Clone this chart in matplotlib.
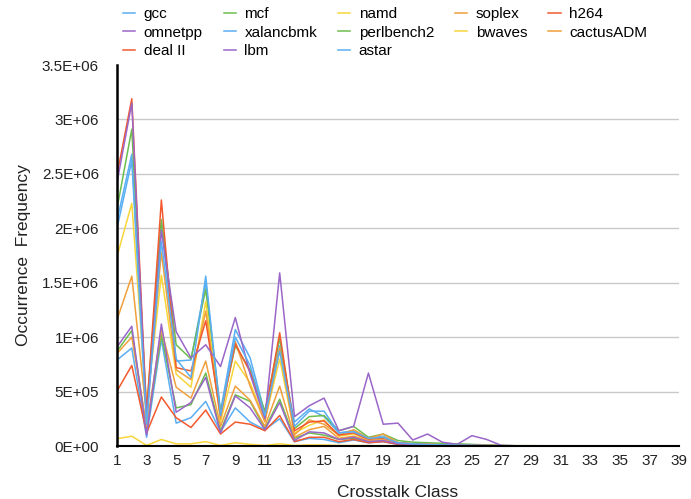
import matplotlib
matplotlib.use("Agg")
import matplotlib.pyplot as plt

plt.rcParams['font.family'] = ['Liberation Sans', 'DejaVu Sans']

classes = list(range(1, 40))
x_ticks = list(range(1, 40, 2))
y_ticks = [0, 0.5, 1.0, 1.5, 2.0, 2.5, 3.0, 3.5]
y_tick_labels = ["0E+00", "5E+05", "1E+06", "1.5E+06", "2E+06", "2.5E+06", "3E+06", "3.5E+06"]

# values in millions
gcc = [2.07, 2.68, 0.25, 2.05, 0.78, 0.79, 1.50, 0.32, 1.07, 0.81, 0.30, 0.92, 0.22, 0.34, 0.27, 0.12, 0.14, 0.07, 0.09, 0.03,
       0.02, 0.015, 0.01, 0.008, 0.006, 0.005, 0.003, 0.002, 0.002, 0.001, 0.001, 0.001, 0.001, 0.001, 0.001, 0.0005, 0.0005, 0.0005, 0.0005]
mcf = [2.18, 2.91, 0.32, 2.08, 0.93, 0.80, 1.44, 0.30, 0.92, 0.70, 0.32, 0.99, 0.16, 0.27, 0.28, 0.14, 0.18, 0.08, 0.11, 0.05,
       0.035, 0.03, 0.025, 0.02, 0.015, 0.01, 0.005, 0.003, 0.003, 0.002, 0.002, 0.002, 0.001, 0.001, 0.001, 0.001, 0.001, 0.001, 0.001]
namd = [1.74, 2.23, 0.35, 1.57, 0.66, 0.54, 1.33, 0.22, 0.78, 0.58, 0.24, 0.80, 0.12, 0.19, 0.24, 0.09, 0.11, 0.06, 0.08, 0.03,
        0.02, 0.015, 0.01, 0.008, 0.006, 0.004, 0.003, 0.002, 0.002, 0.001, 0.001, 0.001, 0.001, 0.001, 0.0005, 0.0005, 0.0005, 0.0005, 0.0005]
soplex = [1.16, 1.56, 0.28, 1.78, 0.70, 0.61, 1.24, 0.25, 0.96, 0.55, 0.22, 0.90, 0.10, 0.24, 0.20, 0.10, 0.15, 0.07, 0.11, 0.03,
          0.02, 0.015, 0.01, 0.008, 0.006, 0.004, 0.003, 0.002, 0.002, 0.001, 0.001, 0.001, 0.001, 0.001, 0.0005, 0.0005, 0.0005, 0.0005, 0.0005]
h264 = [2.49, 3.19, 0.30, 2.26, 0.72, 0.69, 1.15, 0.28, 0.94, 0.68, 0.28, 1.04, 0.14, 0.22, 0.23, 0.10, 0.12, 0.06, 0.07, 0.03,
        0.02, 0.015, 0.01, 0.008, 0.006, 0.004, 0.003, 0.002, 0.002, 0.001, 0.001, 0.001, 0.001, 0.001, 0.0005, 0.0005, 0.0005, 0.0005, 0.0005]
omnetpp = [2.42, 3.15, 0.22, 1.98, 1.05, 0.81, 0.93, 0.73, 1.18, 0.66, 0.25, 1.59, 0.27, 0.37, 0.44, 0.14, 0.18, 0.67, 0.20, 0.21,
           0.055, 0.11, 0.035, 0.015, 0.095, 0.06, 0.005, 0.002, 0.002, 0.001, 0.001, 0.001, 0.001, 0.001, 0.0005, 0.0005, 0.0005, 0.0005, 0.0005]
xalancbmk = [0.79, 0.90, 0.08, 0.98, 0.21, 0.26, 0.41, 0.13, 0.35, 0.22, 0.15, 0.25, 0.04, 0.07, 0.06, 0.03, 0.055, 0.03, 0.04, 0.015,
             0.01, 0.008, 0.006, 0.005, 0.004, 0.003, 0.002, 0.001, 0.001, 0.001, 0.001, 0.0005, 0.0005, 0.0005, 0.0005, 0.0005, 0.0005, 0.0005, 0.0005]
perlbench2 = [0.87, 1.06, 0.15, 1.02, 0.35, 0.38, 0.67, 0.14, 0.47, 0.41, 0.16, 0.43, 0.07, 0.12, 0.10, 0.06, 0.07, 0.04, 0.05, 0.02,
              0.015, 0.01, 0.008, 0.006, 0.005, 0.003, 0.002, 0.001, 0.001, 0.001, 0.001, 0.0005, 0.0005, 0.0005, 0.0005, 0.0005, 0.0005, 0.0005, 0.0005]
bwaves = [0.067, 0.09, 0.005, 0.06, 0.02, 0.02, 0.04, 0.005, 0.03, 0.015, 0.005, 0.02, 0.005, 0.01, 0.01, 0.005, 0.005, 0.003, 0.003, 0.002,
          0.001, 0.001, 0.001, 0.001, 0.001, 0.001, 0.001, 0.0005, 0.0005, 0.0005, 0.0005, 0.0005, 0.0005, 0.0005, 0.0005, 0.0005, 0.0005, 0.0005, 0.0005]
cactusADM = [0.85, 1.00, 0.18, 1.07, 0.54, 0.44, 0.78, 0.18, 0.55, 0.42, 0.18, 0.55, 0.08, 0.15, 0.18, 0.07, 0.09, 0.05, 0.06, 0.02,
             0.015, 0.01, 0.008, 0.006, 0.005, 0.003, 0.002, 0.001, 0.001, 0.001, 0.001, 0.0005, 0.0005, 0.0005, 0.0005, 0.0005, 0.0005, 0.0005, 0.0005]
dealII = [0.505, 0.74, 0.12, 0.45, 0.26, 0.17, 0.33, 0.11, 0.22, 0.20, 0.14, 0.28, 0.04, 0.08, 0.08, 0.04, 0.06, 0.03, 0.04, 0.015,
          0.01, 0.008, 0.006, 0.005, 0.004, 0.003, 0.002, 0.001, 0.001, 0.001, 0.001, 0.0005, 0.0005, 0.0005, 0.0005, 0.0005, 0.0005, 0.0005, 0.0005]
lbm = [0.91, 1.10, 0.10, 1.12, 0.31, 0.40, 0.63, 0.12, 0.46, 0.35, 0.15, 0.40, 0.05, 0.13, 0.12, 0.06, 0.08, 0.04, 0.05, 0.02,
       0.015, 0.01, 0.008, 0.006, 0.005, 0.003, 0.002, 0.001, 0.001, 0.001, 0.001, 0.0005, 0.0005, 0.0005, 0.0005, 0.0005, 0.0005, 0.0005, 0.0005]
astar = [2.00, 2.62, 0.20, 1.88, 0.80, 0.63, 1.56, 0.28, 1.00, 0.74, 0.28, 0.87, 0.18, 0.32, 0.32, 0.12, 0.13, 0.07, 0.08, 0.03,
         0.02, 0.015, 0.01, 0.008, 0.006, 0.004, 0.003, 0.002, 0.002, 0.001, 0.001, 0.001, 0.001, 0.001, 0.0005, 0.0005, 0.0005, 0.0005, 0.0005]

names = ["gcc", "mcf", "namd", "soplex", "h264", "omnetpp", "xalancbmk",
         "perlbench2", "bwaves", "cactusADM", "deal II", "lbm", "astar"]
series = [gcc, mcf, namd, soplex, h264, omnetpp, xalancbmk,
          perlbench2, bwaves, cactusADM, dealII, lbm, astar]
palette = ['#5aaef2', '#6cbd4e', '#f8d63a', '#f0a03c', '#f25a2e', '#9a66c8']
colors = [palette[i % 6] for i in range(len(names))]

fig = plt.figure(figsize=(6.91, 4.99), dpi=100)
ax = fig.add_axes([117/691, 1-446/499, (679-117)/691, (446-65)/499])

for yv in y_ticks[1:-1]:
    ax.axhline(yv, color='#c9c9c9', lw=1.0, zorder=0)

handles = {}
for n, s, c in zip(names, series, colors):
    ln, = ax.plot(classes, s, color=c, lw=1.1, label=n, zorder=2)
    handles[n] = ln

ax.set_xlim(1, 39)
ax.set_ylim(0, 3.5)
ax.set_xticks(x_ticks)
ax.set_xticklabels([str(v) for v in x_ticks])
ax.set_yticks(y_ticks)
ax.set_yticklabels(y_tick_labels)
ax.tick_params(axis='both', length=0, labelsize=11, colors='#222222')
ax.tick_params(axis='y', pad=13)
ax.tick_params(axis='x', pad=6)
for sp in ['top', 'right']:
    ax.spines[sp].set_visible(False)
ax.spines['left'].set_linewidth(1.8)
ax.spines['bottom'].set_linewidth(1.5)
ax.spines['left'].set_color('black')
ax.spines['bottom'].set_color('black')

ax.set_xlabel("Crosstalk Class", fontsize=12.5, labelpad=12, color='#222222')
ax.set_ylabel("Occurrence  Frequency", fontsize=12.5, labelpad=8, color='#222222')

order = ["gcc", "omnetpp", "deal II", "mcf", "xalancbmk", "lbm", "namd",
         "perlbench2", "astar", "soplex", "bwaves", "h264", "cactusADM"]
leg = fig.legend([handles[n] for n in order], order, ncol=5, loc='upper left',
                 bbox_to_anchor=(123/691, 1-7/499), frameon=False, fontsize=11,
                 handlelength=0.8, handletextpad=0.55, columnspacing=1.38,
                 labelspacing=0.3, borderpad=0, borderaxespad=0)

fig.savefig("out.png", dpi=100)
